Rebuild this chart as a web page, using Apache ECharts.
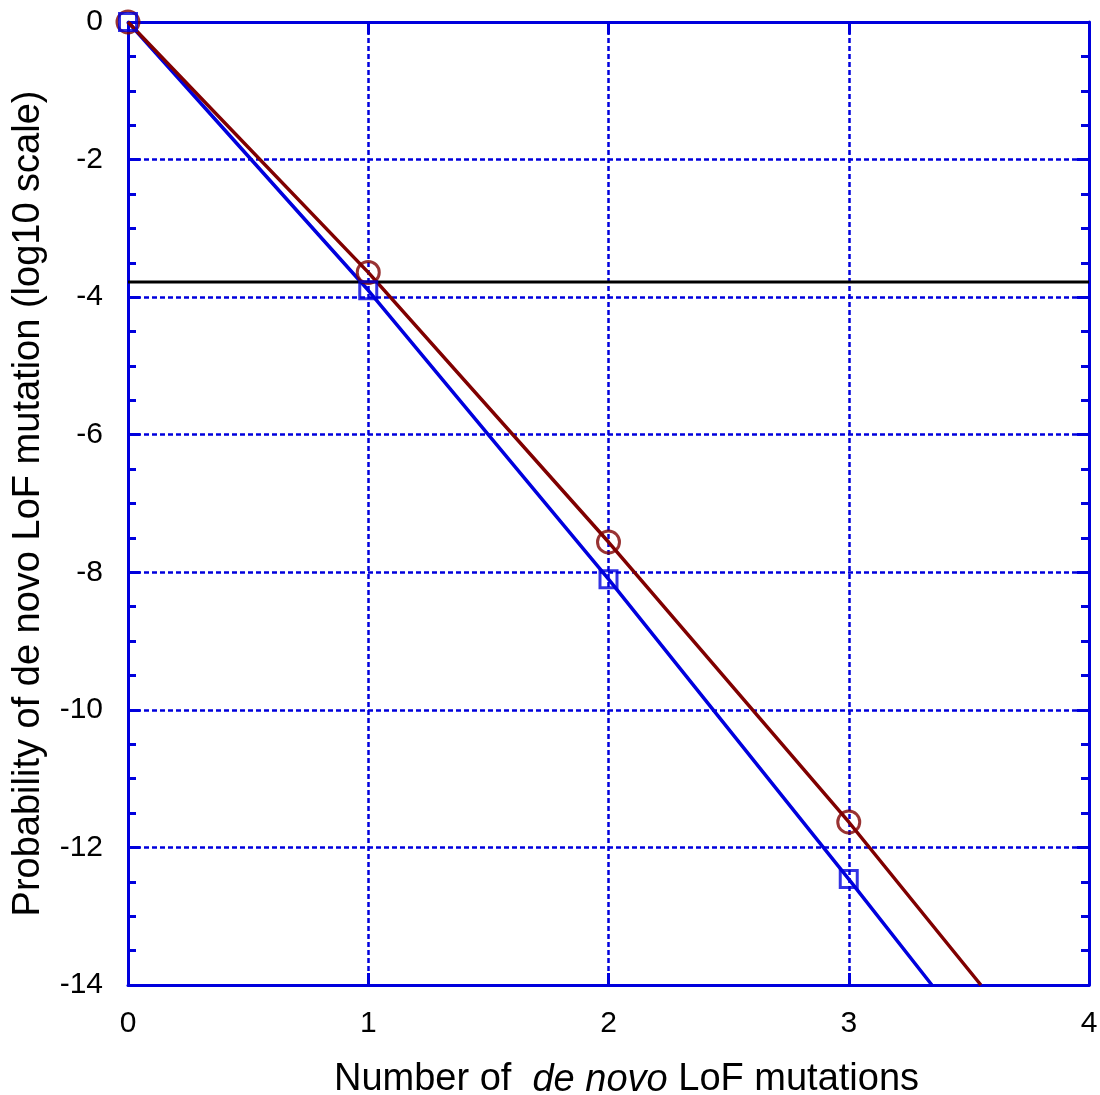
<!DOCTYPE html>
<html>
<head>
<meta charset="utf-8">
<script src="https://cdn.jsdelivr.net/npm/echarts@6/dist/echarts.min.js"></script>
<style>html,body{margin:0;padding:0;background:#fff;overflow:hidden;}#c{width:1100px;height:1095px;}</style>
</head>
<body>
<div id="c"></div>
<script>
// Marker positions (number of de novo LoF mutations, log10 probability)
const counts = [0, 1, 2, 3];
const blueValues = [0, -3.9, -8.1, -12.46];
const redValues = [0, -3.64, -7.56, -11.63];
// Where each curve leaves the plot at the bottom
const blueEnd = [3.346, -14];
const redEnd = [3.55, -14];
// Horizontal threshold line
const thresholdY = -3.78;
const xTicks = [0, 1, 2, 3, 4];
const yTicks = [0, -2, -4, -6, -8, -10, -12, -14];

const BLUE = '#0000dd';
const RED = '#800000';
const FONT = '"Liberation Sans", Arial, Helvetica, sans-serif';

const bluePts = counts.map((c, i) => [c, blueValues[i]]);
const redPts = counts.map((c, i) => [c, redValues[i]]);

const chart = echarts.init(document.getElementById('c'), null, {renderer: 'canvas', width: 1100, height: 1095});

const axisLine = {show: true, onZero: false, lineStyle: {color: BLUE, width: 3}};
const gridLine = {show: true, lineStyle: {color: BLUE, width: 2.5, type: [5, 3]}};

chart.setOption({
  animation: false,
  backgroundColor: '#fff',
  grid: {left: 128, right: 11, top: 22, bottom: 110, containLabel: false, outerBoundsMode: 'none'},
  xAxis: [{
    type: 'value', min: xTicks[0], max: xTicks[xTicks.length - 1], interval: 1,
    axisLine: axisLine,
    axisTick: {show: true, inside: true, length: 12, lineStyle: {color: BLUE, width: 3}},
    splitLine: gridLine,
    axisLabel: {color: '#000', fontSize: 30, fontFamily: FONT, margin: 24},
    name: '{n|Number of  }{i|de novo}{n| LoF mutations}',
    nameLocation: 'middle', nameGap: 76,
    nameTextStyle: {
      padding: [0, 0, 0, 36],
      rich: {
        n: {fontSize: 38, fontFamily: FONT, color: '#000'},
        i: {fontSize: 38, fontFamily: FONT, color: '#000', fontStyle: 'italic'}
      }
    }
  }, {
    type: 'value', position: 'top', min: 0, max: 4, interval: 1,
    axisLine: axisLine,
    axisTick: {show: true, inside: true, length: 12, lineStyle: {color: BLUE, width: 3}},
    splitLine: {show: false}, axisLabel: {show: false}
  }],
  yAxis: [{
    type: 'value', min: yTicks[yTicks.length - 1], max: yTicks[0], interval: 2,
    axisLine: axisLine,
    axisTick: {show: true, inside: true, length: 12, lineStyle: {color: BLUE, width: 3}},
    minorTick: {show: true, splitNumber: 4, length: 8, lineStyle: {color: BLUE, width: 3}},
    splitLine: gridLine,
    axisLabel: {color: '#000', fontSize: 30, fontFamily: FONT, margin: 25},
    name: 'Probability of de novo LoF mutation (log10 scale)',
    nameLocation: 'middle', nameGap: 80,
    nameTextStyle: {fontSize: 38, fontFamily: FONT, color: '#000'}
  }, {
    type: 'value', position: 'right', min: -14, max: 0, interval: 2,
    axisLine: axisLine,
    axisTick: {show: true, inside: true, length: 12, lineStyle: {color: BLUE, width: 3}},
    minorTick: {show: true, splitNumber: 4, length: 8, lineStyle: {color: BLUE, width: 3}},
    splitLine: {show: false}, axisLabel: {show: false}
  }],
  series: [
    {
      type: 'line', data: bluePts.concat([blueEnd]), showSymbol: false, z: 3,
      lineStyle: {color: BLUE, width: 3.5}, clip: true
    },
    {
      type: 'line', data: redPts.concat([redEnd]), showSymbol: false, z: 4,
      lineStyle: {color: RED, width: 3.5}, clip: true
    },
    {
      type: 'line', data: [[xTicks[0], thresholdY], [xTicks[xTicks.length - 1], thresholdY]],
      showSymbol: false, z: 5, lineStyle: {color: '#000', width: 3}
    },
    {
      type: 'scatter', data: redPts, symbol: 'circle', symbolSize: 22, z: 6,
      itemStyle: {color: 'rgba(0,0,0,0)', borderColor: RED, borderWidth: 3}
    },
    {
      type: 'scatter', data: bluePts, symbol: 'rect', symbolSize: 17, z: 7,
      itemStyle: {color: 'rgba(0,0,0,0)', borderColor: BLUE, borderWidth: 3}
    }
  ]
});
</script>
</body>
</html>
